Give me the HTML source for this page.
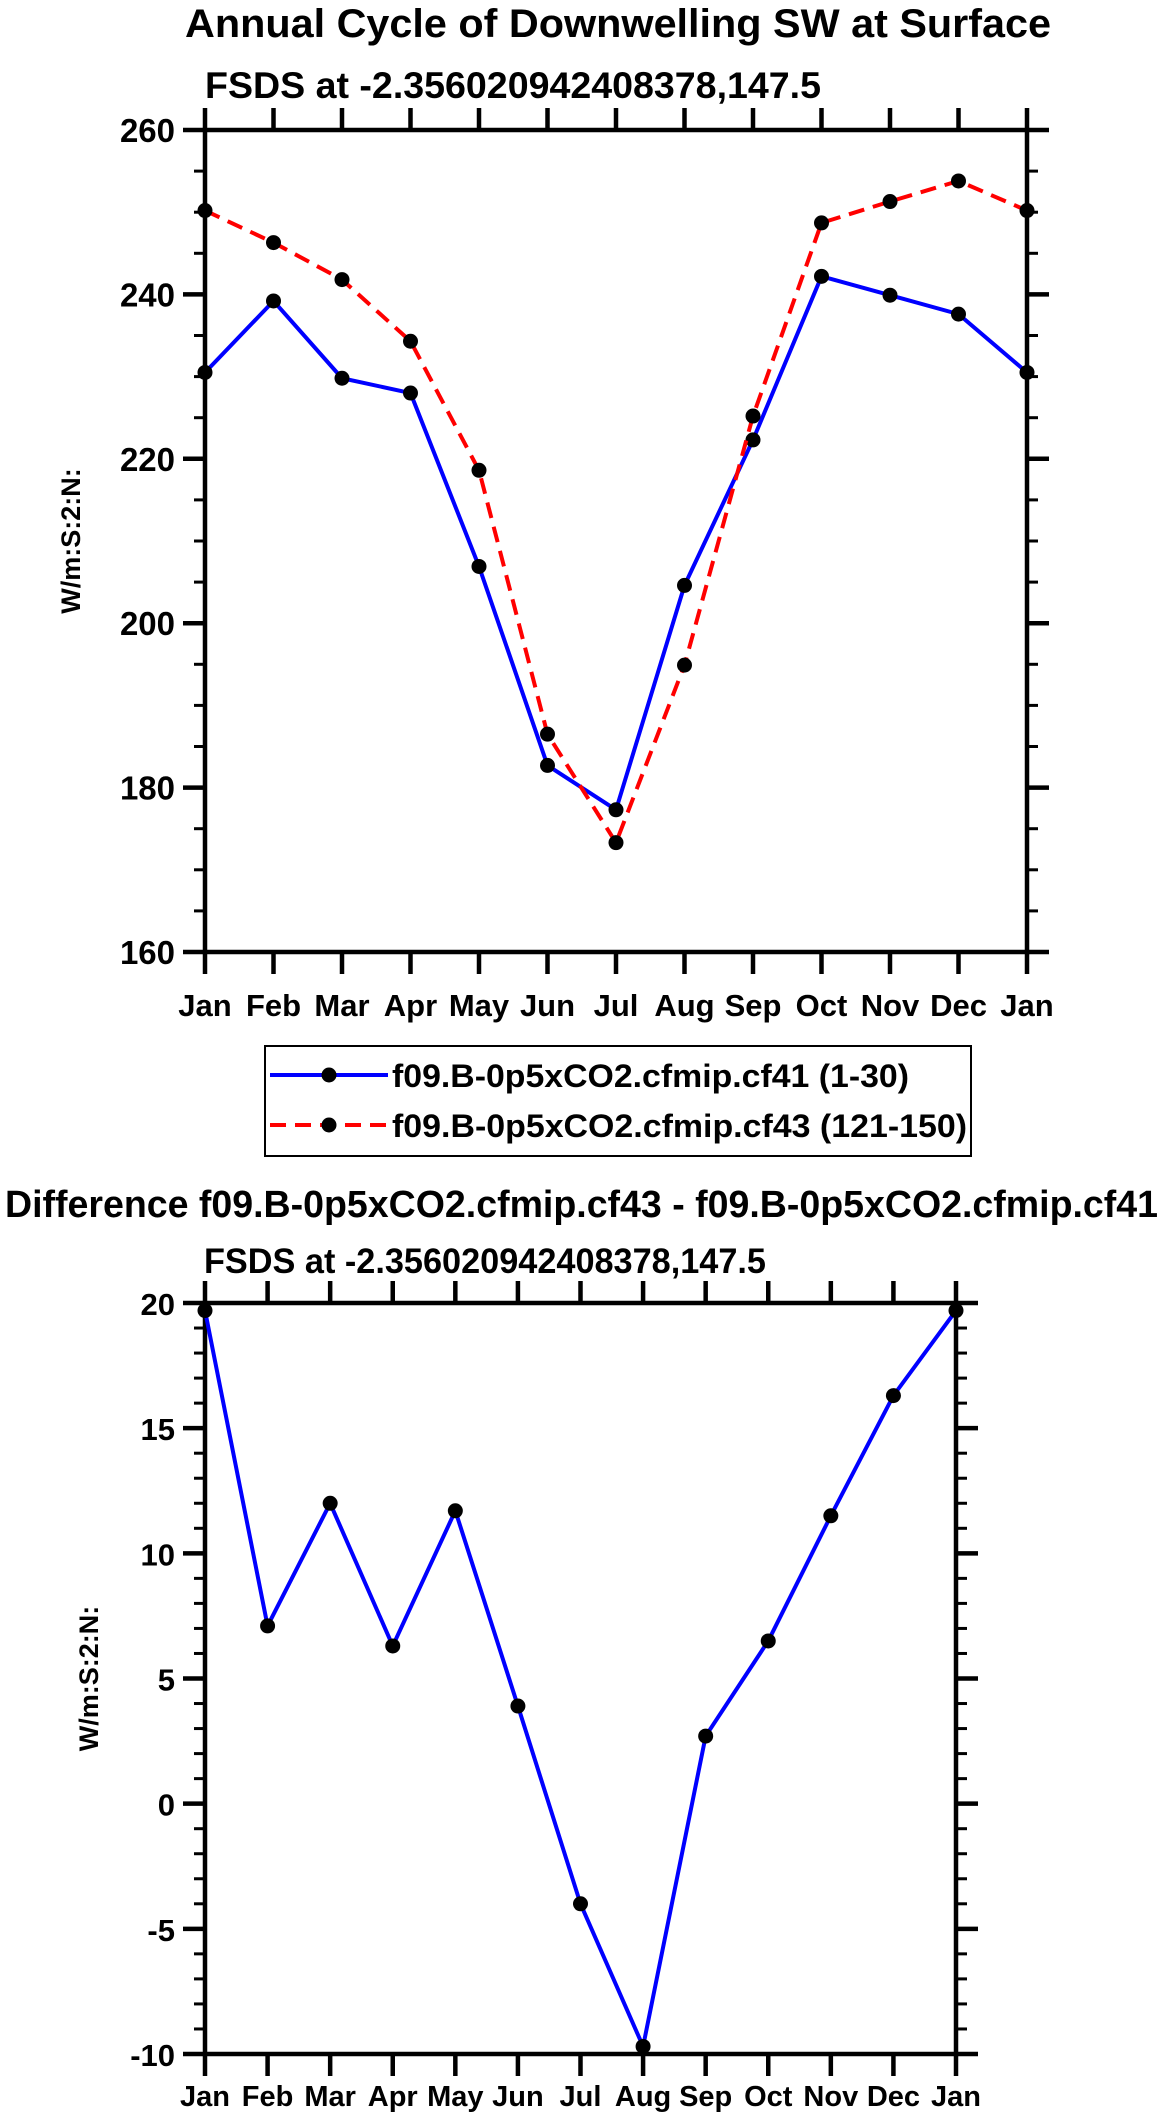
<!DOCTYPE html>
<html><head><meta charset="utf-8"><style>
html,body{margin:0;padding:0;background:#fff;}
svg{display:block;font-family:"Liberation Sans",Arial,sans-serif;font-weight:bold;}
</style></head><body>
<svg id="svg" width="1161" height="2122" viewBox="0 0 1161 2122" xmlns="http://www.w3.org/2000/svg">
<text x="618" y="37" font-size="40" text-anchor="middle" textLength="866" lengthAdjust="spacingAndGlyphs">Annual Cycle of Downwelling SW at Surface</text>
<text x="205" y="98" font-size="37" textLength="616" lengthAdjust="spacingAndGlyphs">FSDS at -2.356020942408378,147.5</text>
<g id="top"></g>
<g>
<rect x="265" y="1046" width="706" height="110" fill="none" stroke="#000" stroke-width="2"/>
<line x1="270" y1="1075" x2="388" y2="1075" stroke="#0000ff" stroke-width="4"/>
<circle cx="329" cy="1075" r="7.5" fill="#000"/>
<text x="392" y="1087" font-size="32" textLength="517" lengthAdjust="spacingAndGlyphs">f09.B-0p5xCO2.cfmip.cf41 (1-30)</text>
<line x1="270" y1="1125" x2="388" y2="1125" stroke="#ff0000" stroke-width="4" stroke-dasharray="16,9"/>
<circle cx="329" cy="1125" r="7.5" fill="#000"/>
<text x="392" y="1137" font-size="32" textLength="575" lengthAdjust="spacingAndGlyphs">f09.B-0p5xCO2.cfmip.cf43 (121-150)</text>
</g>
<text x="5" y="1217" font-size="38" textLength="1153" lengthAdjust="spacingAndGlyphs">Difference f09.B-0p5xCO2.cfmip.cf43 - f09.B-0p5xCO2.cfmip.cf41</text>
<text x="204" y="1273" font-size="35" textLength="562" lengthAdjust="spacingAndGlyphs">FSDS at -2.356020942408378,147.5</text>
<g id="bot"></g>
</svg>
<script>
const months = ["Jan","Feb","Mar","Apr","May","Jun","Jul","Aug","Sep","Oct","Nov","Dec","Jan"];
const cf41 = [230.5,239.2,229.8,228.0,206.9,182.7,177.3,204.6,222.3,242.2,239.9,237.6,230.5];
const cf43 = [250.2,246.3,241.8,234.3,218.6,186.5,173.3,194.9,225.2,248.7,251.3,253.8,250.2];
const diff = [19.7,7.1,12.0,6.3,11.7,3.9,-4.0,-9.7,2.7,6.5,11.5,16.3,19.7];
const topTicks = [160,180,200,220,240,260];
const botTicks = [-10,-5,0,5,10,15,20];
const NS="http://www.w3.org/2000/svg";
function mk(p,tag,a){const e=document.createElementNS(NS,tag);for(const k in a)e.setAttribute(k,a[k]);p.appendChild(e);return e;}
function chart(g,L,T,R,B,ymin,ymax,ticks,minorStep,series,fs,labBase,ytitleX){
  const xs=i=>L+(R-L)*i/(months.length-1);
  const ys=v=>B-(B-T)*(v-ymin)/(ymax-ymin);
  for(let v=ymin;v<=ymax+1e-9;v+=minorStep){
    if(ticks.some(t=>Math.abs(t-v)<1e-9))continue;
    const y=ys(v);
    mk(g,'line',{x1:L-11,y1:y,x2:L,y2:y,stroke:'#000','stroke-width':3});
    mk(g,'line',{x1:R,y1:y,x2:R+11,y2:y,stroke:'#000','stroke-width':3});
  }
  ticks.forEach(v=>{
    const y=ys(v);
    mk(g,'line',{x1:L-22,y1:y,x2:L,y2:y,stroke:'#000','stroke-width':4.5});
    mk(g,'line',{x1:R,y1:y,x2:R+22,y2:y,stroke:'#000','stroke-width':4.5});
    const t=mk(g,'text',{x:L-30,y:y+12,'font-size':fs,'text-anchor':'end'});
    t.textContent=v;
    
    
  });
  months.forEach((m,i)=>{
    const x=xs(i);
    mk(g,'line',{x1:x,y1:T-22,x2:x,y2:T,stroke:'#000','stroke-width':4.5});
    mk(g,'line',{x1:x,y1:B,x2:x,y2:B+22,stroke:'#000','stroke-width':4.5});
    const t=mk(g,'text',{x:x,y:labBase,'font-size':fs-2,'text-anchor':'middle'});
    t.textContent=m;
    
    
  });
  mk(g,'rect',{x:L,y:T,width:R-L,height:B-T,fill:'none',stroke:'#000','stroke-width':4.5});
  const yt=mk(g,'text',{x:ytitleX,y:(T+B)/2,'font-size':27,'text-anchor':'middle',transform:`rotate(-90 ${ytitleX} ${(T+B)/2})`});
  yt.textContent='W/m:S:2:N:';
  
  
  series.forEach(s=>{
    const pts=s.vals.map((v,i)=>xs(i)+','+ys(v)).join(' ');
    const pl=mk(g,'polyline',{points:pts,fill:'none',stroke:s.color,'stroke-width':4,'stroke-linejoin':'round'});
    if(s.dash)pl.setAttribute('stroke-dasharray',s.dash);
    
    
    s.vals.forEach((v,i)=>{
      const c=mk(g,'circle',{cx:xs(i),cy:ys(v),r:7.5,fill:'#000'});
      
      
    });
  });
}
chart(document.getElementById('top'),205,130,1027,952,160,260,topTicks,5,
  [{vals:cf41,color:'#0000ff',name:'cf41'},{vals:cf43,color:'#ff0000',dash:'16,9',name:'cf43'}],33,1016,80);
chart(document.getElementById('bot'),205,1303,956,2054,-10,20,botTicks,1,
  [{vals:diff,color:'#0000ff',name:'difference'}],31,2106,98);
</script>
</body></html>
